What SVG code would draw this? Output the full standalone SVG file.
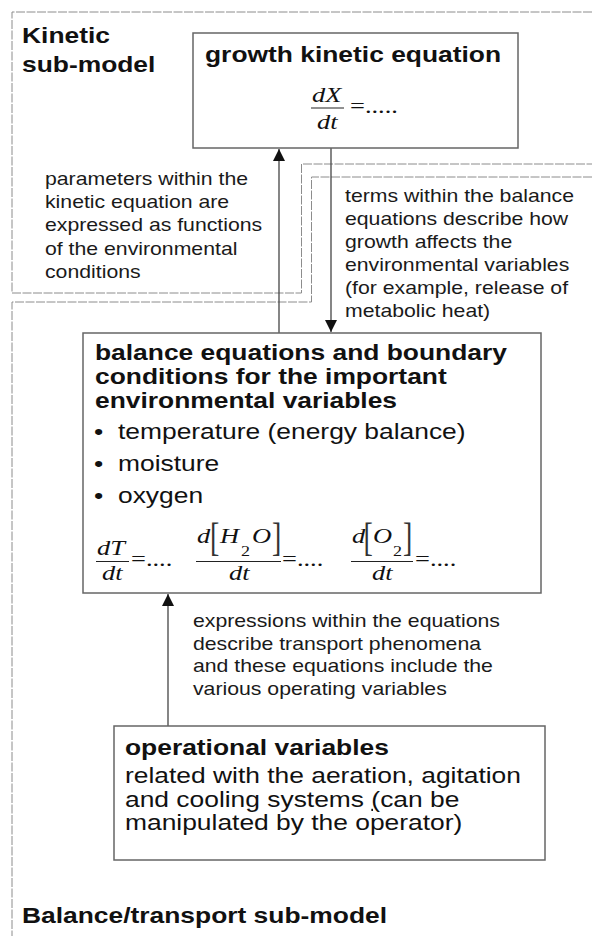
<svg xmlns="http://www.w3.org/2000/svg" width="592" height="936" viewBox="0 0 592 936">
<style>
.b{font-family:"Liberation Sans",Arial,sans-serif;font-weight:bold;font-size:22px;fill:#111}
.r{font-family:"Liberation Sans",Arial,sans-serif;font-size:22px;fill:#111}
.a{font-family:"Liberation Sans",Arial,sans-serif;font-size:17.7px;fill:#1a1a1a}
.m{font-family:"Liberation Serif","Times New Roman",serif;font-style:italic;font-size:22px;fill:#111}
.mu{font-family:"Liberation Serif","Times New Roman",serif;font-size:22px;fill:#111}
.br{font-family:"Liberation Serif","Times New Roman",serif;font-size:40px;fill:#333}
.sub{font-family:"Liberation Serif","Times New Roman",serif;font-size:15px;fill:#111}
.box{fill:#fff;stroke:#666;stroke-width:1.5}
.zone{fill:none;stroke:#8c8c8c;stroke-width:1;stroke-dasharray:9 1.5}
.bar{stroke:#222;stroke-width:1}
.conn{stroke:#444;stroke-width:1.3;fill:none}
</style>
<defs>
<marker id="ah" viewBox="0 0 10 10" refX="10" refY="5" markerWidth="12" markerHeight="12" markerUnits="userSpaceOnUse" orient="auto"><path d="M0,0 L10,5 L0,10 z" fill="#111"/></marker>
</defs>
<rect width="592" height="936" fill="#fff"/>

<g id="zones">
<path class="zone" d="M592 12 H12 V293 H301.5 V164 H592"/>
<path class="zone" d="M592 177 H311.5 V302 H12 V936"/>
</g>

<g id="zone-labels">
<text class="b" transform="translate(22,43) scale(1.2,1)"><tspan x="0">Kinetic</tspan><tspan x="0" dy="29">sub-model</tspan></text>
<text class="b" transform="translate(22,923) scale(1.2,1)">Balance/transport sub-model</text>
</g>

<g id="connectors">
<line class="conn" x1="279" y1="333" x2="279" y2="149" marker-end="url(#ah)"/>
<line class="conn" x1="331" y1="148" x2="331" y2="332" marker-end="url(#ah)"/>
<line class="conn" x1="168" y1="726" x2="168" y2="594" marker-end="url(#ah)"/>
</g>

<g id="kinetic-node">
<rect class="box" x="193" y="33" width="325" height="115"/>
<text class="b" transform="translate(205,62) scale(1.2,1)">growth kinetic equation</text>
<text class="m" transform="translate(312,102) scale(1.2,1)">dX</text>
<line class="bar" x1="311" y1="108" x2="344" y2="108"/>
<text class="m" transform="translate(317,129) scale(1.2,1)">dt</text>
<text class="mu" transform="translate(350,113) scale(1.2,1)">=.....</text>
</g>

<g id="label-params">
<text class="a" transform="translate(45,185) scale(1.2,1)"><tspan x="0">parameters within the</tspan><tspan x="0" dy="23.25">kinetic equation are</tspan><tspan x="0" dy="23.25">expressed as functions</tspan><tspan x="0" dy="23.25">of the environmental</tspan><tspan x="0" dy="23.25">conditions</tspan></text>
</g>

<g id="label-terms">
<text class="a" transform="translate(345,202) scale(1.2,1)"><tspan x="0">terms within the balance</tspan><tspan x="0" dy="23">equations describe how</tspan><tspan x="0" dy="23">growth affects the</tspan><tspan x="0" dy="23">environmental variables</tspan><tspan x="0" dy="23">(for example, release of</tspan><tspan x="0" dy="23">metabolic heat)</tspan></text>
</g>

<g id="balance-node">
<rect class="box" x="83" y="333" width="458" height="260"/>
<text class="b" transform="translate(95,360) scale(1.2,1)"><tspan x="0">balance equations and boundary</tspan><tspan x="0" dy="24">conditions for the important</tspan><tspan x="0" dy="24">environmental variables</tspan></text>
<text class="r" transform="translate(94,439) scale(1.2,1)">•</text>
<text class="r" transform="translate(118,439) scale(1.2,1)">temperature (energy balance)</text>
<text class="r" transform="translate(94,471) scale(1.2,1)">•</text>
<text class="r" transform="translate(118,471) scale(1.2,1)">moisture</text>
<text class="r" transform="translate(94,503) scale(1.2,1)">•</text>
<text class="r" transform="translate(118,503) scale(1.2,1)">oxygen</text>

<text class="m" transform="translate(97,555) scale(1.2,1)">dT</text>
<line class="bar" x1="96" y1="561.5" x2="129" y2="561.5"/>
<text class="m" transform="translate(102,580) scale(1.2,1)">dt</text>
<text class="mu" transform="translate(131,566) scale(1.2,1)">=....</text>

<text class="m" transform="translate(197,543) scale(1.2,1)">d</text>
<text class="br" transform="translate(210,551) scale(0.7,1)">[</text>
<text class="m" transform="translate(220,543) scale(1.2,1)">H</text>
<text class="sub" transform="translate(241,556) scale(1.2,1)">2</text>
<text class="m" transform="translate(252,543) scale(1.2,1)">O</text>
<text class="br" transform="translate(272,551) scale(0.7,1)">]</text>
<line class="bar" x1="196" y1="561.5" x2="281" y2="561.5"/>
<text class="m" transform="translate(229,580) scale(1.2,1)">dt</text>
<text class="mu" transform="translate(282,566) scale(1.2,1)">=....</text>

<text class="m" transform="translate(352,543) scale(1.2,1)">d</text>
<text class="br" transform="translate(363.5,551) scale(0.7,1)">[</text>
<text class="m" transform="translate(373,543) scale(1.2,1)">O</text>
<text class="sub" transform="translate(393,556) scale(1.2,1)">2</text>
<text class="br" transform="translate(403,551) scale(0.7,1)">]</text>
<line class="bar" x1="351" y1="561.5" x2="413" y2="561.5"/>
<text class="m" transform="translate(372,580) scale(1.2,1)">dt</text>
<text class="mu" transform="translate(415,566) scale(1.2,1)">=....</text>
</g>

<g id="label-expressions">
<text class="a" transform="translate(193,627) scale(1.2,1)"><tspan x="0">expressions within the equations</tspan><tspan x="0" dy="22.7">describe transport phenomena</tspan><tspan x="0" dy="22.7">and these equations include the</tspan><tspan x="0" dy="22.7">various operating variables</tspan></text>
</g>

<g id="operational-node">
<rect class="box" x="114" y="726" width="431" height="134"/>
<text class="b" transform="translate(125,755) scale(1.2,1)">operational variables</text>
<text class="r" transform="translate(125,783) scale(1.2,1)"><tspan x="0">related with the aeration, agitation</tspan><tspan x="0" dy="24">and cooling systems <tspan text-decoration="underline">(</tspan>can be</tspan><tspan x="0" dy="23">manipulated by the operator)</tspan></text>
</g>
</svg>
